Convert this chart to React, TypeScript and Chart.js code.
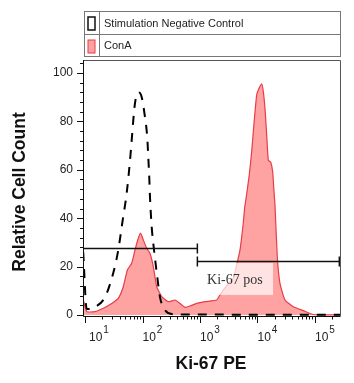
import React, { useEffect, useRef } from "react";
import { Chart, registerables } from "chart.js";

Chart.register(...registerables);

// ---------- data ----------
const controlIntensity = [9.3, 10.7, 11.4, 14.9, 22.3, 31.0, 37.9, 45.3, 53.1, 60.7, 64.9, 69.2, 74.1, 84.5, 94.2, 110.4, 121.1, 126.2, 131.2, 134.9, 144.5, 158.5, 180.7, 201.4, 246, 322, 501, 1000, 10000, 272000];
const controlCount = [26, 2.5, 2.5, 3.3, 7.4, 17.4, 26.9, 39.3, 50.4, 64, 72.3, 80.6, 87.6, 92, 91, 81.8, 73.1, 64.9, 56.6, 48.8, 36.4, 26.9, 15.7, 7.4, 2.1, 0.4, 0.2, 0.2, 0.1, 0.1];

const conaIntensity = [9.23, 10.7, 14.9, 20.8, 29.1, 37.9, 46.3, 54.5, 64.9, 74.1, 84.5, 93.1, 103.3, 118.3, 134.9, 154.2, 176.6, 215.8, 281.2, 367.3, 448.7, 548.3, 669.9, 877, 1222, 1950, 2228, 2541, 3327, 3793, 4345, 4966, 5662, 5957, 6486, 7194, 7925, 8453, 9057, 9683, 10328, 11830, 12618, 13490, 14454, 15417, 16982, 18365, 19364, 20137, 22080, 24604, 30061, 41976, 62661, 93325, 272000];
const conaCount = [6.9, 1.4, 1.4, 2.8, 4.8, 6.9, 11.7, 18.6, 21.4, 26.9, 31.7, 33.8, 31, 27.6, 25.5, 20, 11.7, 7.6, 5.5, 6.2, 4.8, 3.2, 3.7, 4.8, 5.5, 6.2, 8.3, 10.3, 13.8, 15.2, 20.7, 26.9, 38, 44, 50, 57.9, 67.5, 75.7, 84, 90.9, 93, 95.5, 92.3, 85.4, 74.4, 64, 63.1, 59.2, 51, 45.5, 24.1, 13.1, 6.2, 3.4, 1.8, 0.2, 0];

const yTickValues = [0, 20, 40, 60, 80, 100];
const xDecadeExponents = [1, 2, 3, 4, 5];
const legendLabels = ["Stimulation Negative Control", "ConA"];
const xTitle = "Ki-67 PE";
const yTitle = "Relative Cell Count";

// gates (data units)
const gateNegFrom = 9.23;
const gateSplit = 900;
const gatePosTo = 265000;
const gateNegLevel = 27.7;
const gatePosLevel = 22.3;
const gateLabel = "Ki-67 pos";
const labelBoxX = [950, 18600];
const labelBoxY = [21.5, 8.3];

const X_MIN = Math.pow(10, 0.965);
const X_MAX = Math.pow(10, 5.435);
const Y_MIN = -0.41;
const Y_MAX = 105.37;

const FONT = "Arial, 'Liberation Sans', sans-serif";
const FILL = "rgba(255,100,100,0.6)";
const EDGE = "rgb(232,60,70)";

const drawPlugin = {
  id: "flowDecor",
  afterDatasetsDraw(chart: any) {
    const ctx = chart.ctx as CanvasRenderingContext2D;
    const xs = chart.scales.x;
    const ys = chart.scales.y;
    ctx.save();
    // label box
    const bx0 = xs.getPixelForValue(labelBoxX[0]);
    const bx1 = xs.getPixelForValue(labelBoxX[1]);
    const by0 = ys.getPixelForValue(labelBoxY[0]);
    const by1 = ys.getPixelForValue(labelBoxY[1]);
    ctx.fillStyle = "rgba(255,255,255,0.7)";
    ctx.fillRect(bx0, by0, bx1 - bx0, by1 - by0);
    ctx.fillStyle = "#333";
    ctx.font = "14px 'Liberation Serif', 'Times New Roman', serif";
    ctx.textAlign = "center";
    ctx.textBaseline = "middle";
    ctx.fillText(gateLabel, (bx0 + bx1) / 2 - 1, (by0 + by1) / 2 + 1);

    // gates
    ctx.strokeStyle = "#111";
    ctx.lineWidth = 1.5;
    const gate = (a: number, b: number, lvl: number, capA: boolean) => {
      const x0 = xs.getPixelForValue(a);
      const x1 = xs.getPixelForValue(b);
      const y = Math.round(ys.getPixelForValue(lvl)) + 0.5;
      ctx.beginPath();
      ctx.moveTo(x0, y);
      ctx.lineTo(x1, y);
      if (capA) {
        ctx.moveTo(x0, y - 5);
        ctx.lineTo(x0, y + 5);
      }
      ctx.moveTo(x1, y - 5);
      ctx.lineTo(x1, y + 5);
      ctx.stroke();
    };
    gate(gateNegFrom, gateSplit, gateNegLevel, false);
    gate(gateSplit, gatePosTo, gatePosLevel, true);
    ctx.restore();
  },
  afterDraw(chart: any) {
    const ctx = chart.ctx as CanvasRenderingContext2D;
    const xs = chart.scales.x;
    const ys = chart.scales.y;
    const area = chart.chartArea;
    const L = area.left, R = area.right, T = area.top, B = area.bottom;
    ctx.save();

    // frame (top, right)
    ctx.strokeStyle = "#555";
    ctx.lineWidth = 1;
    ctx.beginPath();
    ctx.moveTo(L, T + 0.5);
    ctx.lineTo(R + 0.5, T + 0.5);
    ctx.lineTo(R + 0.5, B);
    ctx.stroke();

    // axes lines
    ctx.strokeStyle = "#111";
    ctx.beginPath();
    ctx.moveTo(L + 0.5, T);
    ctx.lineTo(L + 0.5, B + 0.5);
    ctx.lineTo(R + 0.5, B + 0.5);
    ctx.stroke();

    // y ticks
    ctx.beginPath();
    for (let v = 0; v <= 104; v += 4) {
      const y = Math.round(ys.getPixelForValue(v)) + 0.5;
      const major = v % 20 === 0;
      ctx.moveTo(L + 0.5, y);
      ctx.lineTo(L - (major ? 6 : 3), y);
    }
    // x ticks
    for (const e of xDecadeExponents) {
      for (let m = 1; m <= 9; m++) {
        const v = m * Math.pow(10, e);
        if (v < X_MIN || v > X_MAX) continue;
        const x = Math.round(xs.getPixelForValue(v)) + 0.5;
        ctx.moveTo(x, B + 0.5);
        ctx.lineTo(x, B + (m === 1 ? 7 : 3.5));
      }
    }
    ctx.stroke();

    // y labels
    ctx.fillStyle = "#222";
    ctx.font = `12px ${FONT}`;
    ctx.textAlign = "right";
    ctx.textBaseline = "middle";
    for (const v of yTickValues) {
      ctx.fillText(String(v), L - 10, ys.getPixelForValue(v));
    }
    // x labels
    ctx.textAlign = "left";
    ctx.textBaseline = "alphabetic";
    for (const e of xDecadeExponents) {
      const px = Math.max(xs.getPixelForValue(Math.pow(10, e)), L + 6);
      ctx.font = `12px ${FONT}`;
      ctx.fillText("10", px, B + 25);
      const w = ctx.measureText("10").width;
      ctx.font = `10px ${FONT}`;
      ctx.fillText(String(e), px + w + 1, B + 17);
    }

    // titles
    ctx.fillStyle = "#111";
    ctx.font = `bold 17.5px ${FONT}`;
    ctx.textAlign = "center";
    ctx.textBaseline = "middle";
    ctx.fillText(xTitle, 211, 364);
    ctx.save();
    ctx.translate(20, 192);
    ctx.rotate(-Math.PI / 2);
    ctx.fillText(yTitle, 0, 0);
    ctx.restore();

    // legend
    const lx0 = 84.5, lx1 = 340.5, ly0 = 11.5, ly1 = 34.5, ly2 = 56.5, ldiv = 99.5;
    ctx.strokeStyle = "#777";
    ctx.lineWidth = 1;
    ctx.strokeRect(lx0, ly0, lx1 - lx0, ly2 - ly0);
    ctx.beginPath();
    ctx.moveTo(lx0, ly1);
    ctx.lineTo(lx1, ly1);
    ctx.moveTo(ldiv, ly0);
    ctx.lineTo(ldiv, ly2);
    ctx.stroke();
    // swatches
    ctx.strokeStyle = "#111";
    ctx.lineWidth = 1.5;
    ctx.strokeRect(88, 17, 7, 13);
    ctx.fillStyle = FILL;
    ctx.fillRect(88, 40, 7, 13);
    ctx.strokeStyle = EDGE;
    ctx.lineWidth = 1;
    ctx.strokeRect(88, 40, 7, 13);
    ctx.fillStyle = "#222";
    ctx.font = `11px ${FONT}`;
    ctx.textAlign = "left";
    ctx.textBaseline = "middle";
    ctx.fillText(legendLabels[0], 104, 23.5);
    ctx.fillText(legendLabels[1], 104, 46);

    ctx.restore();
  },
};

export default function App() {
  const ref = useRef<HTMLCanvasElement | null>(null);
  useEffect(() => {
    if (!ref.current) return;
    const chart = new Chart(ref.current, {
      type: "line",
      data: {
        datasets: [
          {
            label: legendLabels[0],
            data: controlIntensity.map((x, i) => ({ x, y: controlCount[i] })),
            borderColor: "#000",
            borderWidth: 2,
            borderDash: [9, 8],
            fill: false,
            pointRadius: 0,
            cubicInterpolationMode: "monotone",
            order: 0,
          },
          {
            label: legendLabels[1],
            data: conaIntensity.map((x, i) => ({ x, y: conaCount[i] })),
            borderColor: EDGE,
            borderWidth: 1.2,
            backgroundColor: FILL,
            fill: "origin",
            pointRadius: 0,
            tension: 0.15,
            order: 1,
          },
        ],
      },
      options: {
        responsive: false,
        animation: false,
        devicePixelRatio: 1,
        layout: { padding: { left: 83, right: 14, top: 60, bottom: 67 } },
        plugins: { legend: { display: false }, title: { display: false }, tooltip: { enabled: false } },
        scales: {
          x: { type: "logarithmic", min: X_MIN, max: X_MAX, display: false },
          y: { type: "linear", min: Y_MIN, max: Y_MAX, display: false },
        },
      },
      plugins: [drawPlugin],
    });
    return () => chart.destroy();
  }, []);
  return (
    <div style={{ position: "absolute", left: 0, top: 0, width: 354, height: 383, background: "#fff" }}>
      <canvas ref={ref} width={354} height={383} style={{ display: "block" }} />
    </div>
  );
}
